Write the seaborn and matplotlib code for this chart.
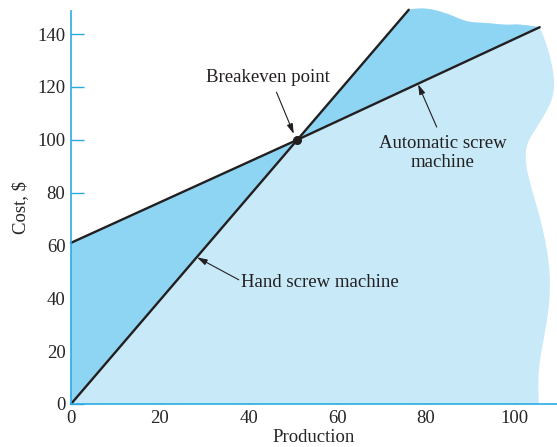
import numpy as np
import pandas as pd
import seaborn as sns
import matplotlib.pyplot as plt
from matplotlib.patches import Polygon

# cost lines
hand_x = [0, 51, 76.1]
hand_cost = [0, 100, 149.2]
auto_x = [0, 51, 105.6]
auto_cost = [61, 100, 142.6]
breakeven = (51, 100)

# wavy hand-drawn edge of the shaded area
top_x = [79.3, 84.7, 89.2, 93.7, 98.2, 101.1]
top_y = [150.2, 147.9, 144.5, 144.2, 143.4, 143.8]
right_x = [107.2, 109.0, 108.6, 105.0, 102.7, 102.3, 103.4, 106.3, 107.9, 107.9, 106.8, 105.6, 105.2, 105.4]
right_y = [136.6, 123.7, 115.0, 104.8, 98.8, 92.3, 83.6, 67.0, 51.8, 39.3, 26.9, 16.6, 7.9, 0.0]

x_ticks = [0, 20, 40, 60, 80, 100]
y_ticks = [0, 20, 40, 60, 80, 100, 120, 140]

LIGHT = "#c7e9f8"
DARK = "#8dd5f3"
AXIS = "#29abe2"
INK = "#231f20"
FS = 13.5


def smooth(pts, n=16):
    # quadratic b-spline through the midpoints, only for drawing the outline
    pts = np.asarray(pts, dtype=float)
    if len(pts) < 3:
        return pts
    mids = (pts[:-1] + pts[1:]) / 2
    out = [pts[0]]
    starts = [pts[0]] + list(mids[1:-1])
    ends = list(mids[1:-1]) + [pts[-1]]
    for p0, c, p2 in zip(starts, pts[1:-1], ends):
        t = np.linspace(0, 1, n)[1:, None]
        out.extend((1 - t) ** 2 * p0 + 2 * (1 - t) * t * c + t ** 2 * p2)
    return np.array(out)


sns.set_style("ticks")
plt.rcParams["font.family"] = ["Liberation Serif", "DejaVu Serif"]
plt.rcParams["text.color"] = INK

fig = plt.figure(figsize=(5.57, 4.47), dpi=100)
ax = fig.add_axes([0.1275, 0.0962, 0.8725, 0.879])

hand = pd.DataFrame({"Production": hand_x, "Cost": hand_cost})
auto = pd.DataFrame({"Production": auto_x, "Cost": auto_cost})

hand_end = (hand_x[-1], hand_cost[-1])
auto_end = (auto_x[-1], auto_cost[-1])
top_edge = smooth([hand_end] + list(zip(top_x, top_y)) + [auto_end])
right_edge = smooth([auto_end] + list(zip(right_x, right_y)))

light = np.vstack([[(0, 0), breakeven], top_edge, right_edge])
ax.add_patch(Polygon(light, closed=True, facecolor=LIGHT, edgecolor="none", zorder=1, clip_on=False))

ax.add_patch(Polygon([(0, 0), breakeven, (0, auto_cost[0])], closed=True,
                     facecolor=DARK, edgecolor="none", zorder=2))
dark2 = np.vstack([[breakeven], top_edge])
ax.add_patch(Polygon(dark2, closed=True, facecolor=DARK, edgecolor="none", zorder=2, clip_on=False))

sns.lineplot(data=hand, x="Production", y="Cost", ax=ax, color=INK, linewidth=1.7, zorder=3)
sns.lineplot(data=auto, x="Production", y="Cost", ax=ax, color=INK, linewidth=1.7, zorder=3)
for ln in ax.lines:
    ln.set_clip_on(False)

ax.scatter([breakeven[0]], [breakeven[1]], s=30, color=INK, zorder=4)

arrow = dict(arrowstyle="-|>,head_width=0.18,head_length=0.6", color=INK, lw=0.8, shrinkA=0, shrinkB=0)
ax.text(44.4, 123.5, "Breakeven point", ha="center", va="center", fontsize=FS)
ax.annotate("", xy=(50.2, 102.2), xytext=(46.3, 118), arrowprops=arrow)
ax.text(83.8, 95, "Automatic screw\nmachine", ha="center", va="center", fontsize=FS, linespacing=1.1)
ax.annotate("", xy=(78.2, 121.0), xytext=(82.4, 104.8), arrowprops=arrow)
ax.text(38.4, 45.8, "Hand screw machine", ha="left", va="center", fontsize=FS)
ax.annotate("", xy=(28.4, 55.5), xytext=(37.8, 47.0), arrowprops=arrow)

ax.set_xlim(0, 109.5)
ax.set_ylim(0, 148.7)
ax.set_xticks(x_ticks)
ax.set_yticks(y_ticks)
ax.tick_params(direction="in", length=9.5, width=1.0, color=AXIS, labelsize=FS, pad=4)
for side in ["top", "right"]:
    ax.spines[side].set_visible(False)
for side in ["left", "bottom"]:
    ax.spines[side].set_color(AXIS)
    ax.spines[side].set_linewidth(1.2)
    ax.spines[side].set_zorder(6)

ax.set_xlabel("Production", fontsize=FS, labelpad=2)
ax.set_ylabel("Cost, $", fontsize=FS, labelpad=6)

fig.savefig("out.png", dpi=100)
